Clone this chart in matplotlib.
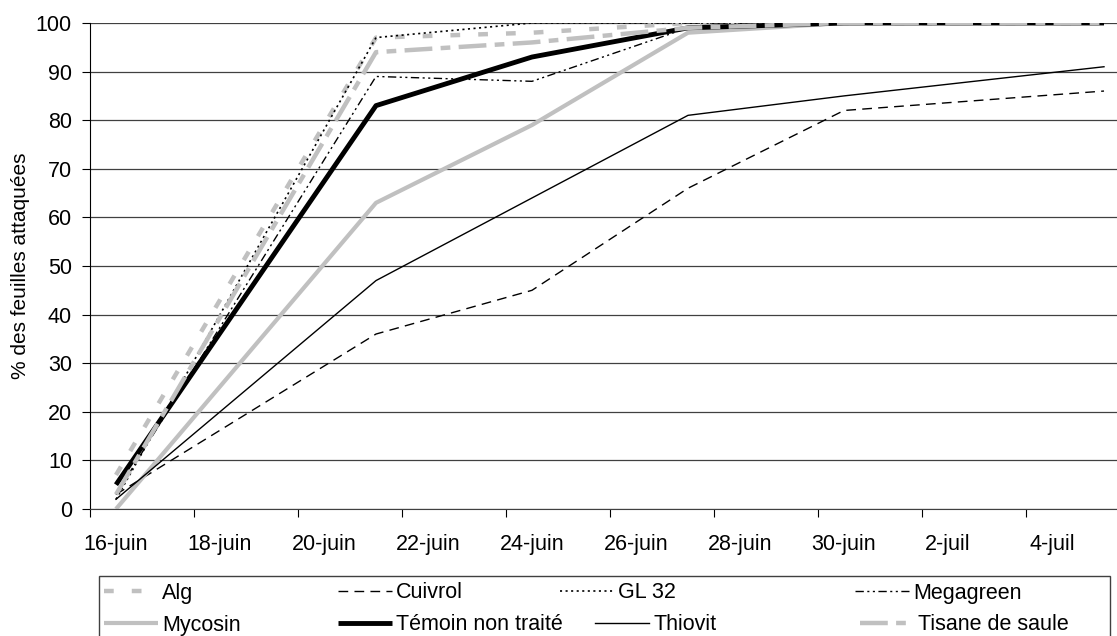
import matplotlib.pyplot as plt
from matplotlib.patches import Rectangle

plt.rcParams['font.family'] = ['Liberation Sans', 'DejaVu Sans']
plt.rcParams['lines.scale_dashes'] = False

W, H = 1117, 636

# days of june (5-juil = 35); Excel puts points in the middle of the day
days = [16, 21, 24, 27, 30, 35]

alg = [7, 97, 98, 100, 100, 100]
cuivrol = [3, 36, 45, 66, 82, 86]
gl32 = [2, 97, 100, 100, 100, 100]
megagreen = [3, 89, 88, 99, 100, 100]
mycosin = [0, 63, 79, 98, 100, 100]
temoin = [5, 83, 93, 99, 100, 100]
thiovit = [2, 47, 64, 81, 85, 91]
tisane = [3, 94, 96, 99, 100, 100]

tick_days = [16, 18, 20, 22, 24, 26, 28, 30, 32, 34]
tick_labels = ['16-juin', '18-juin', '20-juin', '22-juin', '24-juin', '26-juin',
               '28-juin', '30-juin', '2-juil', '4-juil']

gray = '#c0c0c0'
series = {
    'Alg': (alg, dict(color=gray, lw=3.2, dashes=(7, 13))),
    'Cuivrol': (cuivrol, dict(color='black', lw=1, dashes=(7, 4.5))),
    'GL 32': (gl32, dict(color='black', lw=1.2, dashes=(1.5, 2.5))),
    'Megagreen': (megagreen, dict(color='black', lw=1, dashes=(6, 2.5, 1.5, 2.5, 1.5, 2.5))),
    'Mycosin': (mycosin, dict(color=gray, lw=3, solid_capstyle='butt')),
    'Témoin non traité': (temoin, dict(color='black', lw=3.5, solid_capstyle='butt')),
    'Thiovit': (thiovit, dict(color='black', lw=1)),
    'Tisane de saule': (tisane, dict(color=gray, lw=3.2, dashes=(20, 6, 7, 6))),
}

fig = plt.figure(figsize=(W / 100, H / 100), dpi=100)
ax = fig.add_axes([90 / W, (H - 509) / H, 1 - 90 / W, 486 / H])

x = [d + 0.5 for d in days]
handles = {}
for name, (vals, style) in series.items():
    line, = ax.plot(x, vals, label=name, **style)
    handles[name] = line

ax.set_xlim(16, 35.75)
ax.set_ylim(0, 100)
ax.set_yticks(range(0, 101, 10))
ax.set_xticks(tick_days)
ax.set_xticklabels([])
# date labels sit between the tick marks, as in Excel
ax.set_xticks([d + 0.5 for d in tick_days], minor=True)
ax.set_xticklabels(tick_labels, minor=True)
ax.tick_params(axis='x', which='minor', length=0, pad=18, labelsize=15.5)
ax.tick_params(axis='x', which='major', length=6, direction='out')
ax.tick_params(axis='y', labelsize=15.5, length=6, pad=7, direction='out')
ax.yaxis.grid(True, color='#404040', lw=0.9)
ax.set_axisbelow(True)
for side in ['top', 'right']:
    ax.spines[side].set_visible(False)
ax.spines['bottom'].set_color('#404040')
ax.set_ylabel('% des feuilles attaquées', fontsize=15, labelpad=4)

# legend: one small legend per entry so the columns sit where Excel put them
legend_pos = {
    'Alg': (104, 593), 'Cuivrol': (338, 593), 'GL 32': (560, 593), 'Megagreen': (855, 593),
    'Mycosin': (104, 625), 'Témoin non traité': (338, 625), 'Thiovit': (595, 625),
    'Tisane de saule': (860, 625),
}
for name, (px, py) in legend_pos.items():
    fig.legend([handles[name]], [name], loc='center left',
               bbox_to_anchor=(px / W, 1 - py / H), frameon=False, fontsize=15.5,
               handlelength=2.5, handletextpad=0.2, borderpad=0, borderaxespad=0)
fig.patches.append(Rectangle((99 / W, -0.05), 1011 / W, 0.05 + (H - 576) / H,
                             transform=fig.transFigure, fill=False,
                             edgecolor='#404040', lw=1))

fig.savefig('out.png', dpi=100)
